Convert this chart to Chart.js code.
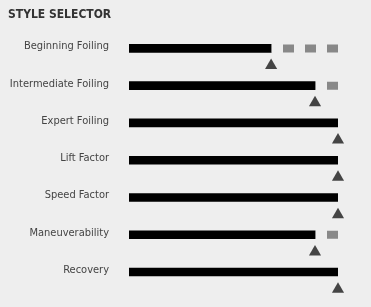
<!DOCTYPE html>
<html>
<head>
<meta charset="utf-8">
<script src="https://cdn.jsdelivr.net/npm/chart.js@4.4.1/dist/chart.umd.min.js"></script>
<style>
  html, body { margin: 0; padding: 0; background: #eeeeee; }
  #wrap { width: 371px; height: 307px; }
</style>
</head>
<body>
<div id="wrap"><canvas id="styleChart"></canvas></div>
<script>
var categories = ['Beginning Foiling', 'Intermediate Foiling', 'Expert Foiling', 'Lift Factor', 'Speed Factor', 'Maneuverability', 'Recovery'];
var ratings = [68, 89, 100, 100, 100, 89, 100];
var maxRating = 100;

var FONT = "'DejaVu Sans Condensed', 'Liberation Sans Narrow', sans-serif";

// black bars
var barData = categories.map(function(c, i) { return { x: ratings[i], y: i }; });

// gray dashed remainder, drawn from the max back to the rating
var restData = [];
categories.forEach(function(c, i) {
  if (ratings[i] < maxRating) {
    restData.push({ x: maxRating, y: i });
    restData.push({ x: ratings[i], y: i });
    restData.push({ x: null, y: null });
  }
});

// triangle marker just under the end of each bar
var markerData = categories.map(function(c, i) { return { x: ratings[i], y: i + 0.46 }; });

var ctx = document.getElementById('styleChart').getContext('2d');
var chart = new Chart(ctx, {
  type: 'bar',
  data: {
    datasets: [
      {
        type: 'bar',
        data: barData,
        backgroundColor: '#000000',
        barThickness: 8,
        order: 2
      },
      {
        type: 'line',
        data: restData,
        borderColor: '#888888',
        borderWidth: 8,
        borderDash: [11, 11],
        borderCapStyle: 'butt',
        pointRadius: 0,
        spanGaps: false,
        fill: false,
        order: 1
      },
      {
        type: 'scatter',
        data: markerData,
        pointStyle: 'triangle',
        pointRadius: 7,
        pointBackgroundColor: '#444444',
        pointBorderWidth: 0,
        clip: false,
        order: 0
      }
    ]
  },
  options: {
    indexAxis: 'y',
    responsive: true,
    maintainAspectRatio: false,
    animation: false,
    layout: { padding: { left: 8, right: 33, top: 8, bottom: 0 } },
    plugins: {
      legend: { display: false },
      tooltip: { enabled: false },
      title: {
        display: true,
        text: 'STYLE SELECTOR',
        align: 'start',
        color: '#333333',
        font: { family: FONT, size: 12, weight: 'bold' },
        padding: { top: 0, bottom: 6 }
      }
    },
    scales: {
      x: {
        type: 'linear',
        min: 0,
        max: maxRating,
        display: false
      },
      y: {
        type: 'linear',
        reverse: true,
        offset: false,
        min: -0.536,
        max: 6.75,
        grid: { display: false },
        border: { display: false },
        afterBuildTicks: function(scale) {
          scale.ticks = categories.map(function(c, i) { return { value: i }; });
        },
        afterFit: function(scale) {
          scale.width = 121;
          scale.paddingTop = 0;
          scale.paddingBottom = 0;
        },
        ticks: {
          padding: 12,
          labelOffset: -2,
          color: '#444444',
          font: { family: FONT, size: 11 },
          callback: function(v) { return categories[v]; }
        }
      }
    }
  }
});
</script>
</body>
</html>
